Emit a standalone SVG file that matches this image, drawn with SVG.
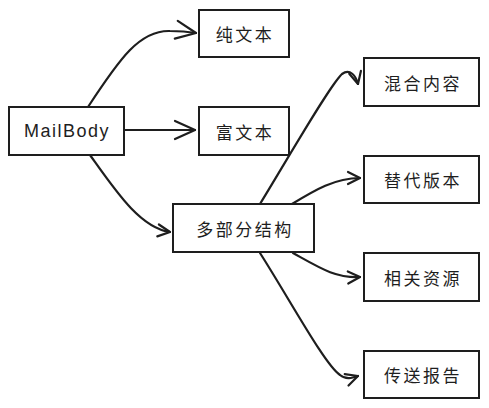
<svg xmlns="http://www.w3.org/2000/svg" width="489" height="408" viewBox="0 0 489 408">
<style>
.box{fill:#fff;stroke:#1e1e1e;stroke-width:2;}
.lbl{font-family:"Noto Sans CJK SC","Noto Sans",sans-serif;font-size:17px;letter-spacing:2.5px;fill:#1e1e1e;text-anchor:middle;dominant-baseline:central;}
.en{font-family:"Liberation Sans","Noto Sans",sans-serif;font-size:18px;letter-spacing:1.5px;fill:#1e1e1e;text-anchor:middle;dominant-baseline:central;}
.edge{fill:none;stroke:#1e1e1e;stroke-width:2.2;stroke-linecap:round;stroke-linejoin:round;}
</style>
<defs>
<marker id="big" viewBox="-22 -11 24 22" markerWidth="24" markerHeight="22" refX="0" refY="0" orient="auto" markerUnits="userSpaceOnUse">
<path d="M-20,-9 L0,0 L-20,9" fill="none" stroke="#1e1e1e" stroke-width="2.2" stroke-linecap="round" stroke-linejoin="round"/>
</marker>
<marker id="small" viewBox="-14 -8 16 16" markerWidth="16" markerHeight="16" refX="0" refY="0" orient="auto" markerUnits="userSpaceOnUse">
<path d="M-12,-6 L0,0 L-12,6" fill="none" stroke="#1e1e1e" stroke-width="2.2" stroke-linecap="round" stroke-linejoin="round"/>
</marker>
</defs>
<rect width="489" height="408" fill="#fff"/>
<g id="connectors">
<path class="edge" d="M88,107 C120,58 140,30 170,31 C180,31 190,32 196,33" marker-end="url(#big)"/>
<path class="edge" d="M124,130 L195,130" marker-end="url(#big)"/>
<path class="edge" d="M90,155 C115,190 140,228 170,232" marker-end="url(#small)"/>
<path class="edge" d="M260,204 C290,155 330,85 342,74 C350,68 356,76 358,84" marker-end="url(#small)"/>
<path class="edge" d="M292,204 C315,190 335,178 360,178" marker-end="url(#small)"/>
<path class="edge" d="M293,253 C320,268 335,278 360,277" marker-end="url(#small)"/>
<path class="edge" d="M260,253 C290,300 325,365 340,375 C346,380 352,378 358,376" marker-end="url(#small)"/>
</g>
<g id="mailbody"><rect class="box" x="9" y="107" width="115" height="48"/><text class="en" x="67" y="131">MailBody</text></g>
<g id="plain"><rect class="box" x="199" y="10" width="90" height="47"/><text class="lbl" x="245" y="33.5">纯文本</text></g>
<g id="rich"><rect class="box" x="199" y="107" width="90" height="48"/><text class="lbl" x="245" y="131">富文本</text></g>
<g id="multipart"><rect class="box" x="173" y="204" width="141" height="48"/><text class="lbl" x="245" y="228">多部分结构</text></g>
<g id="mixed"><rect class="box" x="364" y="58" width="115" height="48"/><text class="lbl" x="423" y="82">混合内容</text></g>
<g id="alternative"><rect class="box" x="364" y="156" width="115" height="47"/><text class="lbl" x="423" y="179.5">替代版本</text></g>
<g id="related"><rect class="box" x="364" y="253" width="115" height="48"/><text class="lbl" x="423" y="277">相关资源</text></g>
<g id="report"><rect class="box" x="364" y="351" width="115" height="47"/><text class="lbl" x="423" y="374.5">传送报告</text></g>
</svg>
